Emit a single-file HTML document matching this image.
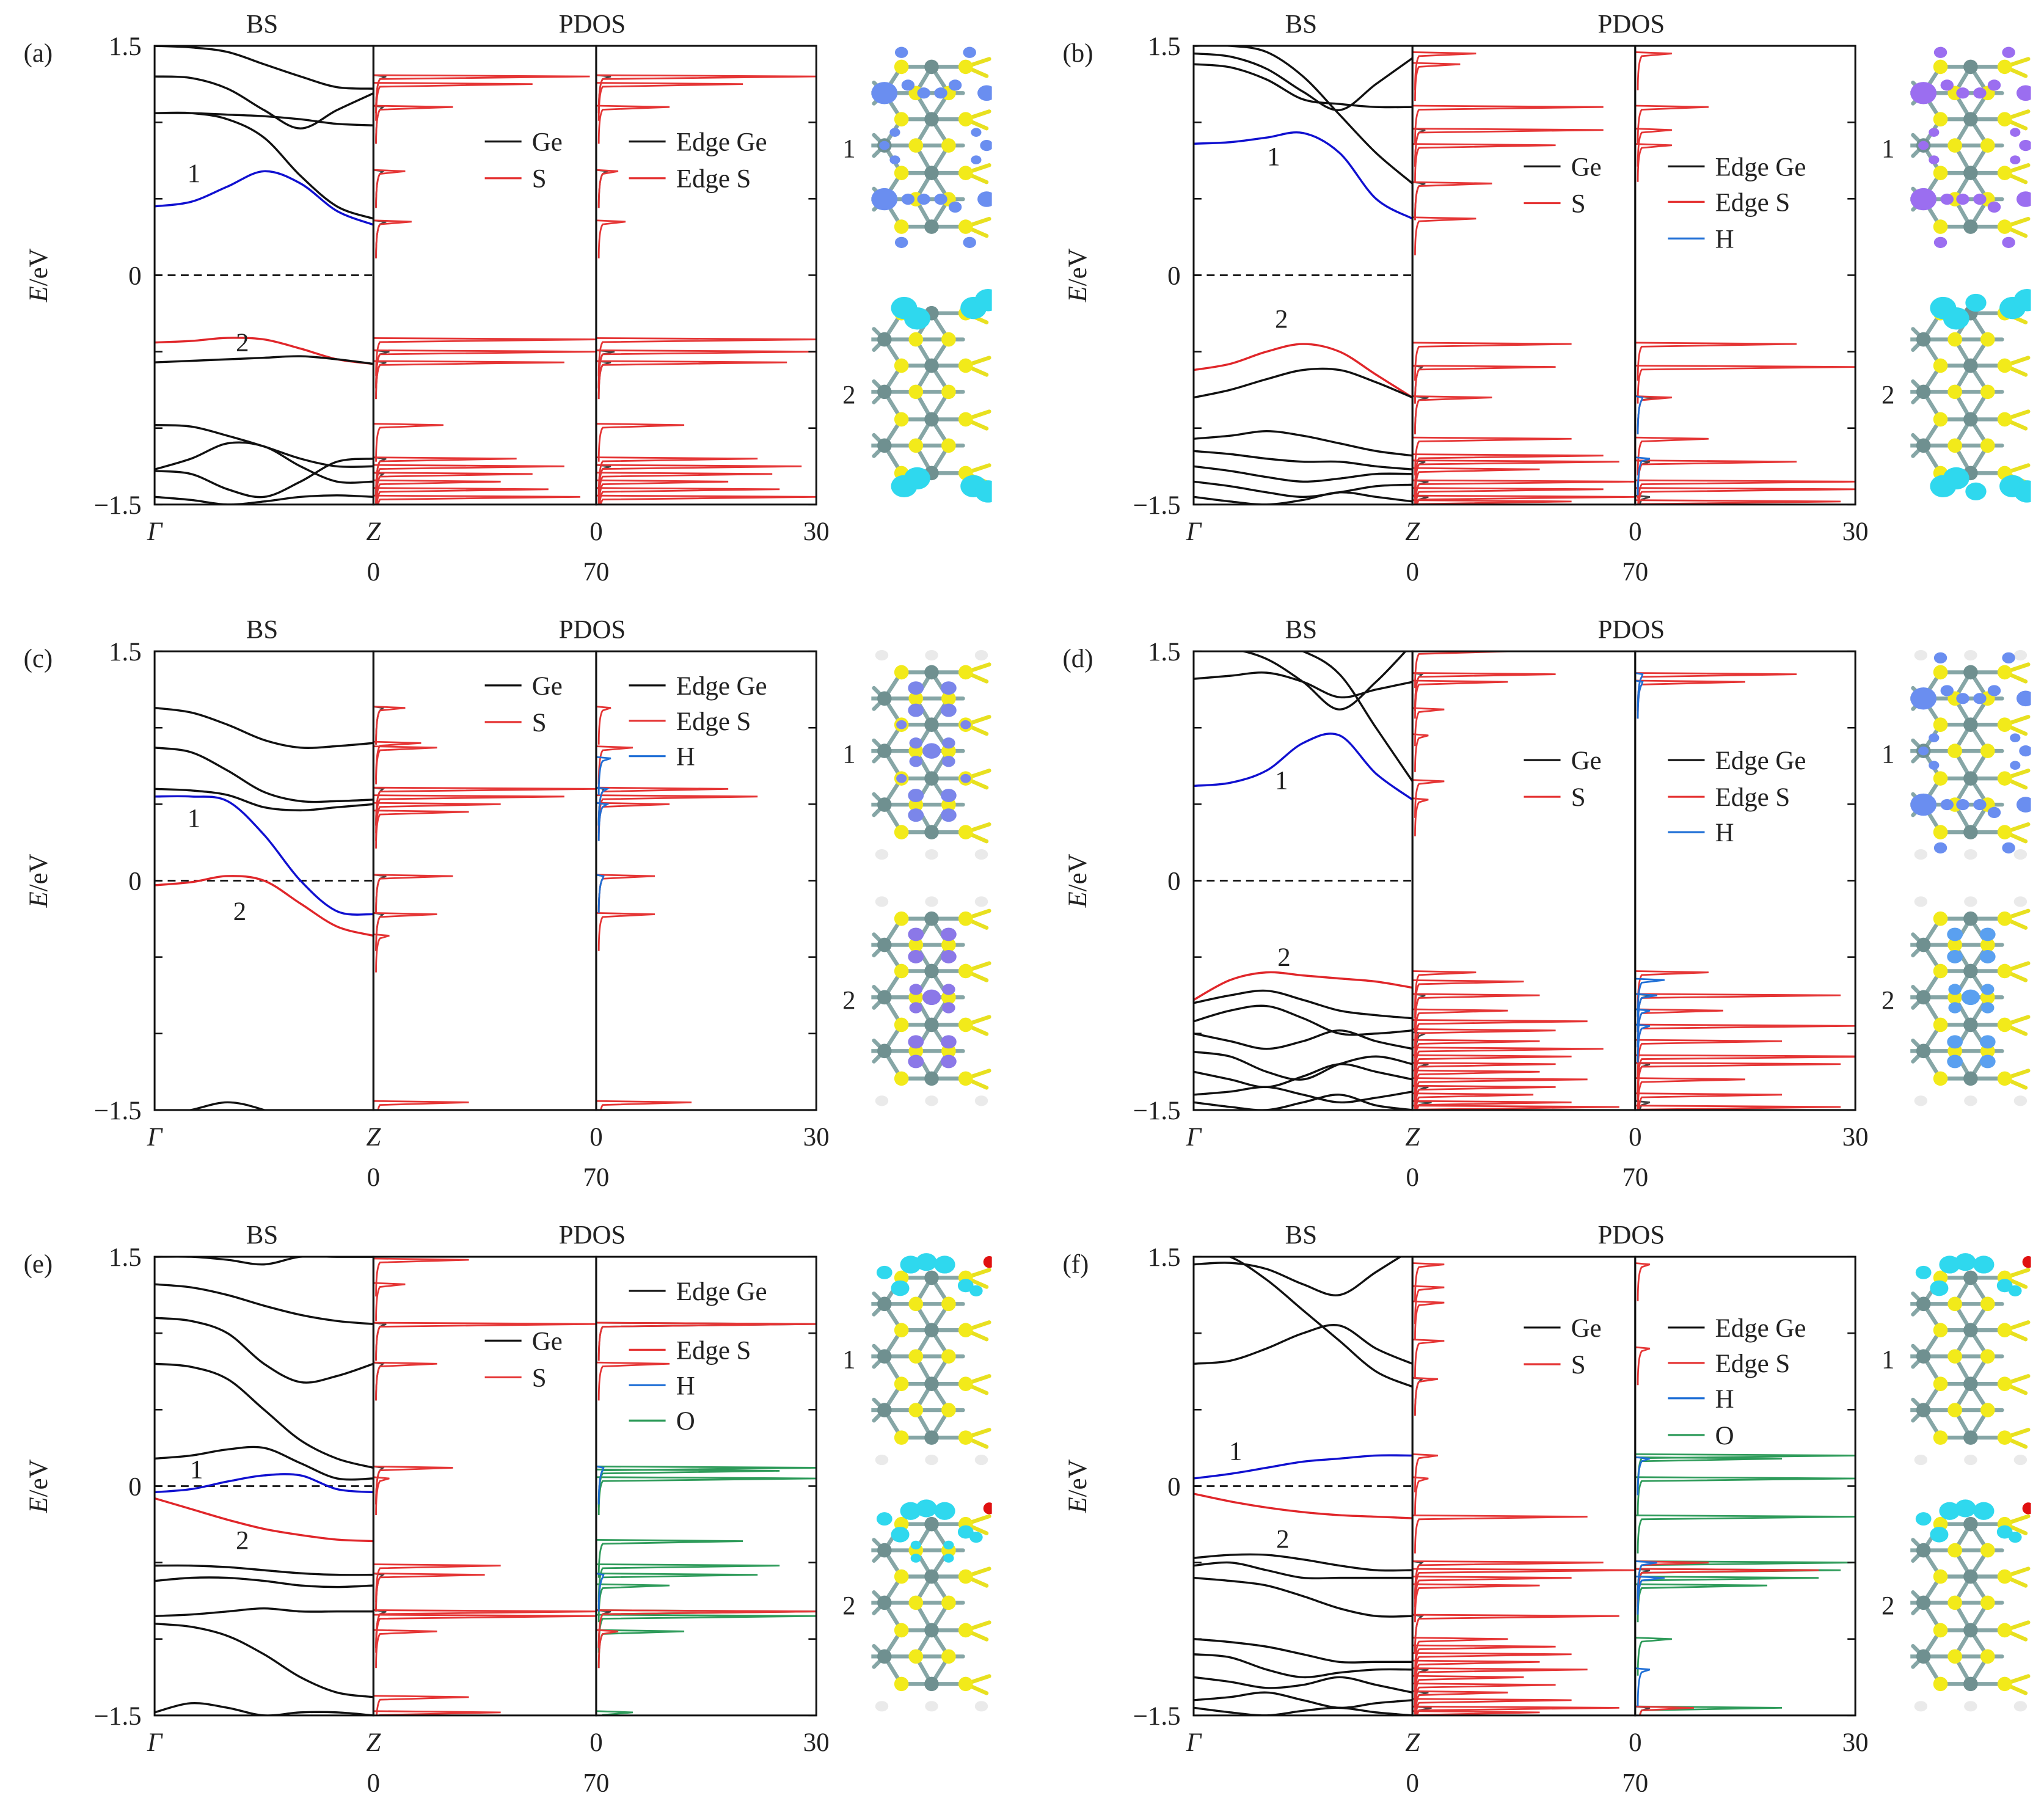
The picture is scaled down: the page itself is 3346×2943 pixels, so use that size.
<!DOCTYPE html>
<html><head><meta charset="utf-8">
<style>
html,body{margin:0;padding:0;background:#fff;}
svg{display:block;}
text{font-family:"Liberation Serif",serif;font-size:20px;fill:#222;}
</style></head>
<body>
<svg id="fig" xmlns="http://www.w3.org/2000/svg" width="3346" height="2943" viewBox="0 0 1560 1372" preserveAspectRatio="none"></svg>
<script>
// ---------- data ----------
const kSamples = [0, 1/6, 2/6, 3/6, 4/6, 5/6, 1];
const yTicks = [1.5, 1, 0.5, 0, -0.5, -1, -1.5];
const yTickLabels = ["1.5", "0", "\u22121.5"];
const yTickLabelVals = [1.5, 0, -1.5];
const dosLeftMax = 70;
const dosRightMax = 30;

const aBands = [[1.5,1.49,1.46,1.38,1.30,1.23,1.22],[1.30,1.29,1.22,1.08,0.96,1.08,1.19],[1.06,1.06,1.05,1.04,1.02,0.99,0.98],[1.06,1.06,1.02,0.9,0.65,0.45,0.37],[0.45,0.48,0.58,0.68,0.6,0.42,0.33],[-0.44,-0.43,-0.41,-0.42,-0.48,-0.55,-0.58],[-0.57,-0.56,-0.55,-0.54,-0.53,-0.55,-0.58],[-0.98,-0.99,-1.05,-1.12,-1.2,-1.25,-1.25],[-1.27,-1.2,-1.1,-1.12,-1.25,-1.35,-1.35],[-1.28,-1.3,-1.4,-1.45,-1.35,-1.22,-1.2],[-1.45,-1.47,-1.5,-1.48,-1.45,-1.44,-1.45]];
const aColors = ["k","k","k","k","b","r","k","k","k","k","k"];
const aDosS = [[1.3,68],[1.25,50],[1.1,25],[0.68,10],[0.35,12],[-0.42,70],[-0.5,70],[-0.57,60],[-0.98,22],[-1.2,45],[-1.25,60],[-1.3,50],[-1.35,40],[-1.4,55],[-1.45,65]];
const aDosGe = [[1.3,4],[1.1,3],[0.68,3],[0.35,4],[-0.5,5],[-0.57,4],[-1.2,4],[-1.3,3]];
const aEdgeGe = [[1.3,2],[0.68,1.5],[-0.5,2.5],[-0.57,2],[-1.25,2]];
const aEdgeS = [[1.3,30],[1.25,20],[1.1,10],[0.68,3],[0.35,4],[-0.42,30],[-0.5,30],[-0.57,26],[-0.98,12],[-1.2,22],[-1.25,28],[-1.3,24],[-1.35,18],[-1.4,25],[-1.45,30]];
const aEdgeH = [];
const aEdgeO = [];

const bBands = [[1.45,1.43,1.35,1.2,1.08,1.25,1.42],[1.38,1.36,1.28,1.15,1.12,1.1,1.1],[1.5,1.5,1.46,1.3,1.05,0.8,0.6],[0.86,0.87,0.9,0.93,0.8,0.5,0.37],[-0.62,-0.58,-0.5,-0.45,-0.5,-0.65,-0.8],[-0.8,-0.75,-0.68,-0.62,-0.62,-0.7,-0.8],[-1.07,-1.05,-1.02,-1.05,-1.1,-1.15,-1.18],[-1.15,-1.17,-1.2,-1.22,-1.22,-1.25,-1.27],[-1.25,-1.28,-1.32,-1.35,-1.33,-1.3,-1.3],[-1.35,-1.38,-1.42,-1.45,-1.42,-1.38,-1.37],[-1.45,-1.48,-1.5,-1.47,-1.42,-1.45,-1.48]];
const bColors = ["k","k","k","b","r","k","k","k","k","k","k"];
const bDosS = [[1.45,20],[1.38,15],[1.1,60],[0.95,60],[0.85,45],[0.6,25],[0.37,20],[-0.45,50],[-0.6,45],[-0.8,25],[-1.07,50],[-1.18,60],[-1.22,65],[-1.27,40],[-1.35,70],[-1.4,60],[-1.45,70],[-1.48,50]];
const bDosGe = [[0.95,4],[0.6,4],[-0.6,3],[-0.8,5],[-1.22,4],[-1.35,5],[-1.45,5]];
const bEdgeGe = [[-0.8,3],[-1.22,2],[-1.45,2]];
const bEdgeS = [[1.45,5],[1.1,10],[0.95,5],[0.85,5],[-0.45,22],[-0.6,30],[-0.8,5],[-1.07,10],[-1.22,22],[-1.35,30],[-1.4,30],[-1.48,28]];
const bEdgeH = [[-0.8,1],[-1.2,2]];
const bEdgeO = [];

const cBands = [[1.13,1.1,1.02,0.92,0.87,0.88,0.9],[0.87,0.84,0.72,0.58,0.52,0.52,0.53],[0.6,0.59,0.56,0.48,0.46,0.48,0.5],[0.55,0.55,0.52,0.3,0.0,-0.2,-0.22],[-0.03,-0.01,0.03,0.0,-0.15,-0.3,-0.36],[-1.55,-1.5,-1.45,-1.5,-1.6,-1.6,-1.6]];
const cColors = ["k","k","k","b","r","k"];
const cDosS = [[1.13,10],[0.9,15],[0.87,20],[0.6,70],[0.55,60],[0.5,40],[0.45,30],[0.03,25],[-0.22,20],[-0.36,5],[-1.45,30]];
const cDosGe = [[1.13,3],[0.6,3],[0.03,4],[-0.22,3]];
const cEdgeGe = [[0.6,1],[0.03,1]];
const cEdgeS = [[1.13,2],[0.87,5],[0.6,18],[0.55,22],[0.5,10],[0.03,8],[-0.22,8],[-1.45,13]];
const cEdgeH = [[0.8,2],[0.6,1.5],[0.5,1.5],[0.03,1]];
const cEdgeO = [];

const dBands = [[1.32,1.34,1.36,1.3,1.2,1.25,1.3],[1.55,1.52,1.45,1.3,1.12,1.3,1.55],[1.55,1.55,1.55,1.5,1.35,1.0,0.65],[0.62,0.64,0.72,0.9,0.95,0.7,0.53],[-0.78,-0.65,-0.6,-0.62,-0.64,-0.66,-0.7],[-0.8,-0.75,-0.72,-0.78,-0.85,-0.88,-0.9],[-0.92,-0.85,-0.82,-0.9,-1.0,-1.0,-0.98],[-1.0,-1.05,-1.1,-1.05,-0.98,-1.05,-1.1],[-1.12,-1.15,-1.25,-1.3,-1.2,-1.15,-1.2],[-1.25,-1.3,-1.35,-1.28,-1.2,-1.25,-1.3],[-1.4,-1.38,-1.35,-1.4,-1.45,-1.42,-1.38],[-1.45,-1.48,-1.5,-1.45,-1.4,-1.47,-1.5]];
const dColors = ["k","k","k","b","r","k","k","k","k","k","k","k"];
const dDosS = [[1.5,30],[1.35,45],[1.3,30],[1.12,10],[0.95,5],[0.65,10],[0.53,5],[-0.6,20],[-0.66,35],[-0.75,40],[-0.85,30],[-0.92,55],[-0.98,45],[-1.05,40],[-1.1,60],[-1.15,50],[-1.2,45],[-1.25,40],[-1.3,55],[-1.35,45],[-1.4,38],[-1.45,50],[-1.48,65]];
const dDosGe = [[1.35,3],[-0.75,4],[-1.0,4],[-1.2,5],[-1.35,5],[-1.45,6]];
const dEdgeGe = [[-0.75,2],[-1.2,2],[-1.45,2]];
const dEdgeS = [[1.35,22],[1.3,15],[-0.6,10],[-0.75,28],[-0.85,12],[-0.95,30],[-1.05,20],[-1.15,35],[-1.2,28],[-1.3,15],[-1.4,20],[-1.48,28]];
const dEdgeH = [[1.35,1],[1.3,1],[-0.65,4],[-0.75,3],[-0.85,2],[-0.95,2]];
const dEdgeO = [];

const eBands = [[1.5,1.5,1.48,1.45,1.5,1.5,1.5],[1.32,1.3,1.25,1.18,1.12,1.08,1.06],[1.1,1.08,1.0,0.8,0.68,0.72,0.8],[0.8,0.78,0.7,0.5,0.3,0.18,0.12],[0.18,0.2,0.24,0.25,0.15,0.05,0.05],[-0.04,-0.02,0.03,0.07,0.07,-0.02,-0.04],[-0.08,-0.15,-0.22,-0.28,-0.32,-0.35,-0.36],[-0.52,-0.52,-0.53,-0.55,-0.57,-0.58,-0.58],[-0.62,-0.6,-0.6,-0.62,-0.65,-0.66,-0.65],[-0.85,-0.84,-0.82,-0.8,-0.82,-0.82,-0.82],[-0.9,-0.92,-0.98,-1.1,-1.25,-1.35,-1.38],[-1.48,-1.42,-1.45,-1.5,-1.48,-1.48,-1.5]];
const eColors = ["k","k","k","k","k","b","r","k","k","k","k","k"];
const eDosS = [[1.48,30],[1.32,10],[1.06,70],[0.8,20],[0.12,25],[0.05,5],[-0.52,40],[-0.58,35],[-0.82,70],[-0.85,70],[-0.95,20],[-1.38,30],[-1.48,40]];
const eDosGe = [[1.06,4],[0.8,3],[0.12,3],[-0.58,3],[-0.82,4]];
const eEdgeGe = [[1.06,30],[-0.82,2]];
const eEdgeS = [[1.06,30],[0.8,10],[-0.82,30],[-0.95,3]];
const eEdgeH = [[0.12,1],[-0.58,1]];
const eEdgeO = [[0.12,30],[0.1,25],[0.05,30],[-0.36,20],[-0.52,25],[-0.58,22],[-0.65,10],[-0.82,30],[-0.85,30],[-0.95,12],[-1.48,5]];

const fBands = [[1.45,1.46,1.42,1.32,1.25,1.4,1.55],[0.8,0.82,0.9,1.0,1.05,0.9,0.8],[1.55,1.5,1.35,1.15,0.95,0.75,0.65],[0.05,0.08,0.12,0.16,0.18,0.2,0.2],[-0.05,-0.1,-0.14,-0.17,-0.19,-0.2,-0.21],[-0.47,-0.45,-0.45,-0.48,-0.52,-0.55,-0.55],[-0.52,-0.5,-0.55,-0.6,-0.6,-0.6,-0.6],[-0.6,-0.62,-0.65,-0.72,-0.8,-0.85,-0.85],[-1.0,-1.02,-1.05,-1.1,-1.15,-1.15,-1.15],[-1.1,-1.12,-1.2,-1.25,-1.22,-1.2,-1.2],[-1.25,-1.28,-1.32,-1.3,-1.25,-1.3,-1.35],[-1.4,-1.38,-1.35,-1.4,-1.45,-1.42,-1.4],[-1.45,-1.48,-1.5,-1.47,-1.45,-1.48,-1.5]];
const fColors = ["k","k","k","b","r","k","k","k","k","k","k","k","k"];
const fDosS = [[1.45,10],[1.3,10],[1.2,10],[0.95,10],[0.7,8],[0.2,8],[0.05,5],[-0.2,55],[-0.5,60],[-0.55,70],[-0.6,50],[-0.65,40],[-0.85,65],[-1.0,30],[-1.05,45],[-1.1,50],[-1.15,40],[-1.2,55],[-1.25,35],[-1.3,45],[-1.35,30],[-1.4,50],[-1.45,65],[-1.48,40]];
const fDosGe = [[0.7,3],[-0.5,3],[-0.85,3],[-1.2,5],[-1.35,5],[-1.45,6]];
const fEdgeGe = [[-0.55,2],[-1.45,2]];
const fEdgeS = [[1.45,2],[0.9,2],[-0.5,10],[-0.55,25],[-1.45,8]];
const fEdgeH = [[0.18,2],[-0.5,3],[-0.6,4],[-1.2,2]];
const fEdgeO = [[0.2,30],[0.18,20],[0.05,30],[-0.2,30],[-0.5,30],[-0.55,28],[-0.6,25],[-0.65,18],[-1.0,5],[-1.45,20]];

// ---------- drawing ----------
const NS = "http://www.w3.org/2000/svg";
const svg = document.getElementById("fig");
const COL = {k:"#111", r:"#e0262a", b:"#1010d0", S:"#e53535", Ge:"#444", H:"#1f6fd6", O:"#2e9b5a"};
function mk(tag, attrs, parent){const e=document.createElementNS(NS,tag);for(const k in attrs)e.setAttribute(k,attrs[k]);(parent||svg).appendChild(e);return e;}
function txt(x,y,s,parent,anchor,extra){const t=mk("text",Object.assign({x:x,y:y,"text-anchor":anchor||"middle"},extra||{}),parent);t.textContent=s;return t;}

function curvePath(pts){let d="M"+pts[0][0]+","+pts[0][1];for(let i=0;i<pts.length-1;i++){const p0=pts[Math.max(0,i-1)],p1=pts[i],p2=pts[i+1],p3=pts[Math.min(pts.length-1,i+2)];const c1x=p1[0]+(p2[0]-p0[0])/6,c1y=p1[1]+(p2[1]-p0[1])/6,c2x=p2[0]-(p3[0]-p1[0])/6,c2y=p2[1]-(p3[1]-p1[1])/6;d+=" C"+c1x+","+c1y+" "+c2x+","+c2y+" "+p2[0]+","+p2[1];}return d;}

// molecule lattice template (relative coords)
const cRows=[16,56,97,138], lRows=[36,76,117];
function lattice(m,mx,y0,hTop,hBot){
  const L=(a,b,c,d,col)=>mk("line",{x1:mx+a,y1:y0+b,x2:mx+c,y2:y0+d,stroke:col,"stroke-width":3,"stroke-linecap":"round"},m);
  cRows.forEach((y,i)=>{
    L(23,y,72,y,"#86a6a6");L(72,y,90,y-6,"#e8e020");L(72,y,88,y+7,"#e8e020");
    if(i<3){L(46,y,34,lRows[i],"#86a6a6");L(46,y,59,lRows[i],"#86a6a6");}
    if(i>0){L(46,y,34,lRows[i-1],"#86a6a6");L(46,y,59,lRows[i-1],"#86a6a6");}
    if(i<3)L(23,y,10,lRows[i],"#86a6a6");
    if(i>0)L(23,y,10,lRows[i-1],"#86a6a6");
  });
  lRows.forEach(y=>{L(0,y,70,y,"#86a6a6");L(10,y,2,y-8,"#86a6a6");L(10,y,2,y+8,"#86a6a6");});
  cRows.forEach(y=>{mk("circle",{cx:mx+23,cy:y0+y,r:5.5,fill:"#f2ea1a"},m);mk("circle",{cx:mx+72,cy:y0+y,r:5.5,fill:"#f2ea1a"},m);mk("circle",{cx:mx+46,cy:y0+y,r:5.5,fill:"#6f9090"},m);});
  lRows.forEach(y=>{mk("circle",{cx:mx+34,cy:y0+y,r:5.5,fill:"#f2ea1a"},m);mk("circle",{cx:mx+59,cy:y0+y,r:5.5,fill:"#f2ea1a"},m);mk("circle",{cx:mx+10,cy:y0+y,r:5.5,fill:"#6f9090"},m);});
  const H=y=>[[8,y],[46,y],[84,y]].forEach(([x,yy])=>mk("ellipse",{cx:mx+x,cy:y0+yy,rx:5,ry:4,fill:"#eaeaea"},m));
  if(hTop)H(3); if(hBot)H(155);
}

function panel(p){
  const g=mk("g",{});
  
  
  const ox=p.ox, oy=p.oy;
  const x0=118+ox, x1=285+ox, x2=455+ox, x3=623+ox, yt=35+oy, yb=385+oy;
  const ey=E=>yt+(1.5-E)/3*(yb-yt);
  const kx=k=>x0+k*(x1-x0);
  const clip="clip-"+p.id;
  const cp=mk("clipPath",{id:clip},g);mk("rect",{x:x0,y:yt,width:x3-x0,height:yb-yt},cp);
  const plot=mk("g",{"clip-path":"url(#"+clip+")"},g);
  const fl=mk("line",{x1:x0,x2:x1,y1:ey(0),y2:ey(0),stroke:"#111","stroke-width":1.3,"stroke-dasharray":"6,4"},plot);
  
  p.bands.forEach((b,i)=>{
    const pts=b.map((E,j)=>[kx(kSamples[j]),ey(E)]);
    const path=mk("path",{d:curvePath(pts),fill:"none",stroke:COL[p.colors[i]],"stroke-width":1.6},plot);
    
    
  });
  function spikes(list,base,width,max,color,name){
    list.forEach(([E,h])=>{
      const y=ey(E), xh=base+h/max*width;
      const d="M"+base+","+(y-1)+" L"+xh+","+y+" L"+(base+5)+","+(y+2)+" Q"+(base+2)+","+(y+6)+" "+(base+2)+","+(y+28);
      const s=mk("path",{d:d,fill:"none",stroke:color,"stroke-width":1.3},plot);
      
      
    });
  }
  spikes(p.dosGe,x1,x2-x1,dosLeftMax,COL.Ge,"ge-dos");
  spikes(p.dosS,x1,x2-x1,dosLeftMax,COL.S,"s-dos");
  spikes(p.edgeGe,x2,x3-x2,dosRightMax,COL.Ge,"edge-ge-dos");
  spikes(p.edgeO,x2,x3-x2,dosRightMax,COL.O,"o-dos");
  spikes(p.edgeS,x2,x3-x2,dosRightMax,COL.S,"edge-s-dos");
  spikes(p.edgeH,x2,x3-x2,dosRightMax,COL.H,"h-dos");
  [[x0,x1],[x1,x2],[x2,x3]].forEach(([a,b],i)=>{const r=mk("rect",{x:a,y:yt,width:b-a,height:yb-yt,fill:"none",stroke:"#111","stroke-width":1.4},g);});
  yTicks.forEach(v=>{mk("line",{x1:x0,x2:x0+6,y1:ey(v),y2:ey(v),stroke:"#111","stroke-width":1.2},g);mk("line",{x1:x3,x2:x3-6,y1:ey(v),y2:ey(v),stroke:"#111","stroke-width":1.2},g);});
  yTickLabelVals.forEach((v,i)=>{const t=txt(x0-10,ey(v)+7,yTickLabels[i],g,"end");});
  const yl=txt(0,0,"",g,"middle",{transform:"translate("+(ox+36)+","+(ey(0))+") rotate(-90)"});
  yl.innerHTML='<tspan font-style="italic">E</tspan>/eV';
  
  txt(x0,yb+27,"\u0393",g,"middle",{"font-style":"italic"});
  txt(x1,yb+27,"Z",g,"middle",{"font-style":"italic"});
  txt(x2,yb+27,"0",g);txt(x3,yb+27,"30",g);
  txt(x1,yb+58,"0",g);txt(x2,yb+58,"70",g);
  txt(x0+82,yt-10,"BS",g);
  txt(x2-3,yt-10,"PDOS",g);
  txt(ox+18,yt+12,"("+p.id+")",g,"start");
  txt(p.l1[0],p.l1[1],"1",g);txt(p.l2[0],p.l2[1],"2",g);
  function leg(x,y,s,c){mk("line",{x1:x,x2:x+28,y1:y,y2:y,stroke:c,"stroke-width":1.5},g);const t=txt(x+36,y+7,s,g,"start",{fill:c});}
  leg(x1+85,p.lgL,"Ge",COL.k);leg(x1+85,p.lgL+28,"S",COL.S);
  p.lgR.forEach(([y,s,c])=>leg(x2+25,y,s,c));
  function mol(y0,label,blob){
    const m=mk("g",{},g);
    
    
    const mx=665+ox;
    const mc="mclip-"+p.id+label;
    const c2=mk("clipPath",{id:mc},g);mk("rect",{x:mx,y:y0-5,width:92,height:172},c2);
    const inner=mk("g",{"clip-path":"url(#"+mc+")"},m);
    lattice(inner,mx,y0,p.hTop,p.hBot);
    blob.forEach(([bx,by,br,bc])=>mk("ellipse",{cx:mx+bx,cy:y0+by,rx:br,ry:br*0.85,fill:bc},inner));
    if(p.oxy){mk("circle",{cx:mx+90,cy:y0+4,r:4.5,fill:"#e01010"},inner);}
    txt(mx-17,y0+85,label,g);
  }
  mol(yt,"1",p.blob1);mol(yt+188,"2",p.blob2);
}
const BL="#6a8ef0", PU="#9b6ef0", CY="#2fd8ee", BP="#7b86ea", LB="#5aa0f0";
const edgeBlob=c=>[[10,36,10,c],[10,117,10,c],[10,76,4,c],[28,30,5,c],[40,36,5,c],[53,36,5,c],[64,30,5,c],[28,117,5,c],[40,117,5,c],[53,117,5,c],[64,123,5,c],[88,36,7,c],[88,117,7,c],[88,76,5,c],[23,5,5,c],[75,5,5,c],[23,150,5,c],[75,150,5,c],[18,66,4,c],[18,87,4,c],[80,66,4,c],[80,87,4,c]];
const cornerBlob=c=>[[25,12,10,c],[35,20,10,c],[78,12,10,c],[89,6,10,c],[25,148,10,c],[35,142,10,c],[78,148,10,c],[89,152,10,c]];
const centerBlob=c=>[[34,28,6,c],[59,28,6,c],[34,45,6,c],[59,45,6,c],[34,70,5,c],[59,70,5,c],[34,84,5,c],[59,84,5,c],[34,110,6,c],[59,110,6,c],[34,125,6,c],[59,125,6,c],[46,76,7,c]];
const topBlob=c=>[[30,6,8,c],[42,4,8,c],[56,6,8,c],[22,24,7,c],[10,12,6,c],[72,22,6,c],[80,26,5,c]];

panel({id:"a",ox:0,oy:0,bands:aBands,colors:aColors,dosS:aDosS,dosGe:aDosGe,edgeGe:aEdgeGe,edgeS:aEdgeS,edgeH:aEdgeH,edgeO:aEdgeO,l1:[148,139],l2:[185,268],lgL:108,lgR:[[108,"Edge Ge",COL.k],[136,"Edge S",COL.S]],blob1:edgeBlob(BL),blob2:cornerBlob(CY)});
panel({id:"b",ox:793,oy:0,bands:bBands,colors:bColors,dosS:bDosS,dosGe:bDosGe,edgeGe:bEdgeGe,edgeS:bEdgeS,edgeH:bEdgeH,edgeO:bEdgeO,l1:[972,126],l2:[978,250],lgL:127,lgR:[[127,"Edge Ge",COL.k],[154,"Edge S",COL.S],[182,"H",COL.H]],blob1:edgeBlob(PU),blob2:cornerBlob(CY).concat([[50,8,8,CY],[50,152,8,CY]])});
panel({id:"c",ox:0,oy:462,hTop:true,hBot:true,bands:cBands,colors:cColors,dosS:cDosS,dosGe:cDosGe,edgeGe:cEdgeGe,edgeS:cEdgeS,edgeH:cEdgeH,edgeO:cEdgeO,l1:[148,631],l2:[183,702],lgL:523,lgR:[[523,"Edge Ge",COL.k],[550,"Edge S",COL.S],[577,"H",COL.H]],blob1:centerBlob(BP).concat([[23,56,4,BP],[72,56,4,BP],[23,97,4,BP],[72,97,4,BP]]),blob2:centerBlob("#8b78e8")});
panel({id:"d",ox:793,oy:462,hTop:true,hBot:true,bands:dBands,colors:dColors,dosS:dDosS,dosGe:dDosGe,edgeGe:dEdgeGe,edgeS:dEdgeS,edgeH:dEdgeH,edgeO:dEdgeO,l1:[978,602],l2:[980,737],lgL:580,lgR:[[580,"Edge Ge",COL.k],[608,"Edge S",COL.S],[635,"H",COL.H]],blob1:edgeBlob(BL),blob2:centerBlob(LB)});
panel({id:"e",ox:0,oy:924,hBot:true,oxy:true,bands:eBands,colors:eColors,dosS:eDosS,dosGe:eDosGe,edgeGe:eEdgeGe,edgeS:eEdgeS,edgeH:eEdgeH,edgeO:eEdgeO,l1:[150,1128],l2:[185,1182],lgL:1023,lgR:[[985,"Edge Ge",COL.k],[1030,"Edge S",COL.S],[1057,"H",COL.H],[1084,"O",COL.O]],blob1:topBlob(CY),blob2:topBlob(CY).concat([[34,32,4,CY],[59,32,4,CY],[34,42,4,CY],[59,42,4,CY]])});
panel({id:"f",ox:793,oy:924,hBot:true,oxy:true,bands:fBands,colors:fColors,dosS:fDosS,dosGe:fDosGe,edgeGe:fEdgeGe,edgeS:fEdgeS,edgeH:fEdgeH,edgeO:fEdgeO,l1:[943,1114],l2:[979,1181],lgL:1013,lgR:[[1013,"Edge Ge",COL.k],[1040,"Edge S",COL.S],[1067,"H",COL.H],[1095,"O",COL.O]],blob1:topBlob(CY),blob2:topBlob(CY)});
</script>
</body></html>
